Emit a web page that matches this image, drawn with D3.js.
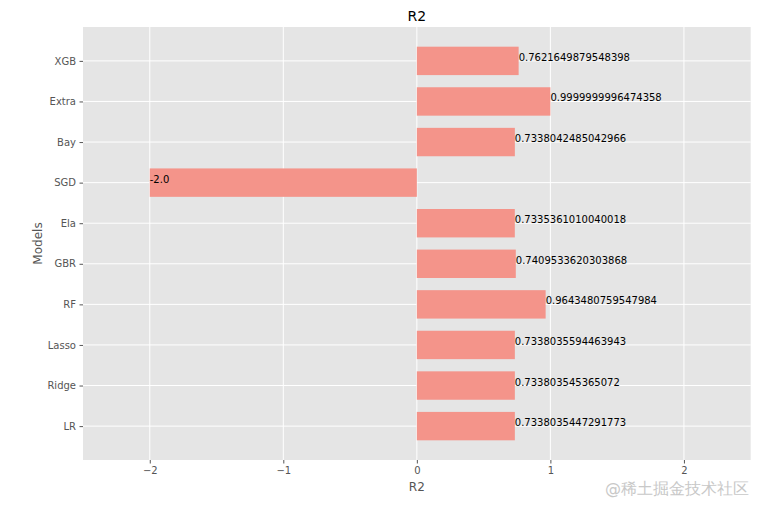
<!DOCTYPE html>
<html>
<head>
<meta charset="utf-8">
<script src="https://cdn.jsdelivr.net/npm/d3@7"></script>
<style>
html,body{margin:0;padding:0;background:#fff;}
svg{display:block;}
text{font-family:"DejaVu Sans",sans-serif;}
</style>
</head>
<body>
<svg id="chart" width="765" height="513"></svg>
<script>
const models = ["LR","Ridge","Lasso","RF","GBR","Ela","SGD","Bay","Extra","XGB"];
const r2Values = [0.7338035447291773,0.733803545365072,0.7338035594463943,0.9643480759547984,0.7409533620303868,0.7335361010040018,-2.0,0.7338042485042966,0.9999999996474358,0.7621649879548398];
const r2Labels = ["0.7338035447291773","0.733803545365072","0.7338035594463943","0.9643480759547984","0.7409533620303868","0.7335361010040018","-2.0","0.7338042485042966","0.9999999996474358","0.7621649879548398"];
const xTicks = [-2,-1,0,1,2];
const titleText = "R2";
const xLabel = "R2";
const yLabel = "Models";
const watermark = "@稀土掘金技术社区";

const svg = d3.select("#chart");
const m = {left:83, right:14.3, top:27, bottom:53};
const W = 765, H = 513;
const pw = W - m.left - m.right, ph = H - m.top - m.bottom;
const barH = 0.7;
const n = models.length;
const pad = 0.05*(n - 1 + barH);

const x = d3.scaleLinear().domain([-2.5,2.5]).range([m.left, m.left+pw]);
const y = d3.scaleLinear().domain([-barH/2 - pad, n - 1 + barH/2 + pad]).range([m.top+ph, m.top]);

svg.append("rect").attr("x",m.left).attr("y",m.top).attr("width",pw).attr("height",ph).attr("fill","#E5E5E5");

// grid
const g = svg.append("g");
g.selectAll(".vg").data(xTicks).join("line")
  .attr("x1",d=>x(d)).attr("x2",d=>x(d)).attr("y1",m.top).attr("y2",m.top+ph)
  .attr("stroke","#fff").attr("stroke-width",1);
g.selectAll(".hg").data(models).join("line")
  .attr("x1",m.left).attr("x2",m.left+pw).attr("y1",(d,i)=>y(i)).attr("y2",(d,i)=>y(i))
  .attr("stroke","#fff").attr("stroke-width",1);

// bars
const bandPx = Math.abs(y(0)-y(1))*barH;
svg.selectAll(".bar").data(r2Values).join("rect")
  .attr("x",d=>x(Math.min(0,d)))
  .attr("width",d=>Math.abs(x(d)-x(0)))
  .attr("y",(d,i)=>y(i)-bandPx/2)
  .attr("height",bandPx)
  .attr("fill","#F4948A");

// value labels (baseline at bar centre)
svg.selectAll(".vl").data(r2Values).join("text")
  .attr("x",d=>x(d))
  .attr("y",(d,i)=>y(i))
  .attr("font-size",10)
  .attr("fill","#000")
  .text((d,i)=>r2Labels[i]);

// axes
const xAxis = d3.axisBottom(x).tickValues(xTicks).tickSize(3.5).tickPadding(3.5)
  .tickFormat(d=>d<0?"\u2212"+Math.abs(d):String(d));
const xa = svg.append("g").attr("transform",`translate(0,${m.top+ph})`).call(xAxis);
xa.select(".domain").remove();
xa.selectAll("line").attr("stroke","#555");
xa.selectAll("text").attr("fill","#555").attr("font-size",10).attr("font-family","DejaVu Sans");

const yAxis = d3.axisLeft(y).tickValues(d3.range(n)).tickSize(3.5).tickPadding(3.5)
  .tickFormat(i=>models[i]);
const ya = svg.append("g").attr("transform",`translate(${m.left},0)`).call(yAxis);
ya.select(".domain").remove();
ya.selectAll("line").attr("stroke","#555");
ya.selectAll("text").attr("fill","#555").attr("font-size",10).attr("font-family","DejaVu Sans");

// title & labels
svg.append("text").attr("x",m.left+pw/2).attr("y",m.top-6).attr("text-anchor","middle")
  .attr("font-size",14).attr("fill","#000").text(titleText);
svg.append("text").attr("x",x(0)).attr("y",491).attr("text-anchor","middle")
  .attr("font-size",12).attr("fill","#555").text(xLabel);
svg.append("text").attr("transform",`translate(42,${m.top+ph/2}) rotate(-90)`).attr("text-anchor","middle")
  .attr("font-size",12).attr("fill","#555").text(yLabel);

svg.append("text").attr("x",749).attr("y",494).attr("text-anchor","end")
  .attr("font-size",16).attr("font-family","Noto Sans CJK SC").attr("fill","#c8c8c8").text(watermark);
</script>
</body>
</html>
